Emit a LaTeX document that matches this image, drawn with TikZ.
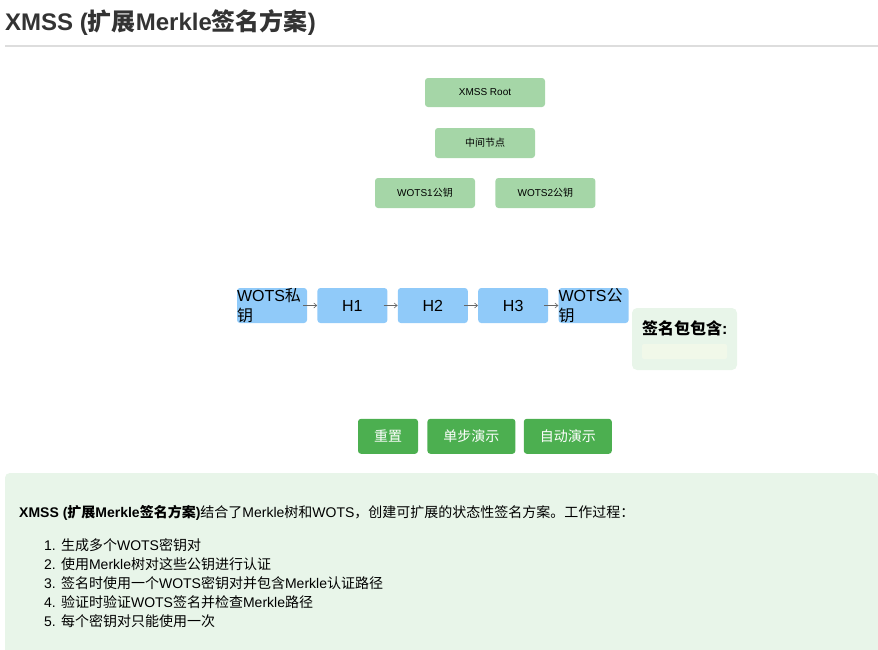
\documentclass[tikz,border=0pt]{standalone}
\usepackage{fontspec}
\setmainfont{Liberation Sans}
\newfontfamily\cjk{Noto Sans CJK SC}
\newcommand{\zh}[1]{{\cjk #1}}
\usepackage{xcolor}
\usepackage{tikz}
\usetikzlibrary{arrows.meta, positioning}

\definecolor{titlegray}{HTML}{333333}
\definecolor{rulegray}{HTML}{DDDDDD}
\definecolor{treegreen}{HTML}{A5D6A7}
\definecolor{chainblue}{HTML}{90CAF9}
\definecolor{btngreen}{HTML}{4CAF50}
\definecolor{panelgreen}{HTML}{E8F5E9}
\definecolor{sigfill}{HTML}{F1F8E9}
\definecolor{arrowgray}{HTML}{666666}

\begin{document}
\begin{tikzpicture}[x=1pt, y=-1pt, node distance=10pt,
    treebox/.style={fill=treegreen, rounded corners=3pt, minimum width=100pt, minimum height=30pt,
      inner sep=0pt, font=\fontsize{10}{12}\selectfont},
    chainbox/.style={fill=chainblue, rounded corners=3pt, minimum width=70pt, minimum height=35pt,
      inner sep=0pt, font=\fontsize{16}{19}\selectfont},
    btn/.style={fill=btngreen, rounded corners=3pt, minimum height=35pt, inner sep=0pt,
      text=white, font=\fontsize{14}{17}\selectfont},
    bodytext/.style={anchor=base west, inner sep=0pt, font=\fontsize{14}{17}\selectfont}]
  \useasboundingbox (0,0) rectangle (878,649);

  % heading
  \node[anchor=base west, inner sep=0pt, text=titlegray, font=\fontsize{24}{29}\selectfont\bfseries]
    (title) at (5,30) {XMSS (\zh{扩展}Merkle\zh{签名方案})};
  \coordinate (rl) at (5,46);
  \coordinate (rr) at (878,46);
  \draw[rulegray, line width=2pt] (rl) -- (rr);

  % merkle tree
  \node[treebox, minimum width=120pt, minimum height=29pt] (root) at (485,92.5) {XMSS Root};
  \node[treebox] (mid) at (485,143) {\zh{中间节点}};
  \node[treebox] (pk1) at (425,193) {WOTS1\zh{公钥}};
  \node[treebox, right=20pt of pk1] (pk2) {WOTS2\zh{公钥}};

  % hash chain
  \node[chainbox] (sk) at (272,305.5) {};
  \node[chainbox, right=of sk] (h1) {H1};
  \node[chainbox, right=of h1] (h2) {H2};
  \node[chainbox, right=of h2] (h3) {H3};
  \node[chainbox, right=of h3] (pk) {};
  \node[anchor=north west, inner sep=0pt, align=left, font=\fontsize{16}{20}\selectfont]
    (sktxt) at (sk.north west) {WOTS\zh{私}\\\zh{钥}};
  \node[anchor=north west, inner sep=0pt, align=left, font=\fontsize{16}{20}\selectfont]
    (pktxt) at (pk.north west) {WOTS\zh{公}\\\zh{钥}};

  \foreach \a/\b in {sk/h1, h1/h2, h2/h3, h3/pk}
    \draw[arrowgray, line width=0.6pt, shorten <=-4pt, -{Straight Barb[length=3pt, width=5pt]}] (\a) -- (\b);

  % signature package
  \node[fill=panelgreen, rounded corners=5pt, minimum width=105pt, minimum height=62pt, inner sep=0pt]
    (sig) at (684.5,339) {};
  \node[anchor=west, inner sep=0pt, font=\fontsize{16}{19}\selectfont\bfseries]
    (sigtitle) at (642,328.5) {\zh{签名包包含}:};
  \node[fill=sigfill, rounded corners=2pt, minimum width=85pt, minimum height=15pt, inner sep=0pt]
    (siglist) at (684.5,351.5) {};

  % controls
  \node[btn, minimum width=60pt] (rst) at (388,436.3) {\zh{重置}};
  \node[btn, minimum width=88pt, right=9pt of rst] (stp) {\zh{单步演示}};
  \node[btn, minimum width=88pt, right=8pt of stp] (aut) {\zh{自动演示}};

  % explanation
  \node[anchor=north west, fill=panelgreen, rounded corners=4pt, minimum width=873pt,
        minimum height=190pt, inner sep=0pt] (info) at (5,473) {};
  \node[bodytext] (intro) at (19,517)
    {\textbf{XMSS (\zh{扩展}Merkle\zh{签名方案})}\zh{结合了}Merkle\zh{树和}WOTS\zh{，创建可扩展的状态性签名方案。工作过程：}};
  \foreach \i/\t in {1/{\zh{生成多个}WOTS\zh{密钥对}},
                     2/{\zh{使用}Merkle\zh{树对这些公钥进行认证}},
                     3/{\zh{签名时使用一个}WOTS\zh{密钥对并包含}Merkle\zh{认证路径}},
                     4/{\zh{验证时验证}WOTS\zh{签名并检查}Merkle\zh{路径}},
                     5/{\zh{每个密钥对只能使用一次}}}
    \node[bodytext] (item\i) at (44,531+19*\i) {\i. \t};
\end{tikzpicture}
\end{document}
